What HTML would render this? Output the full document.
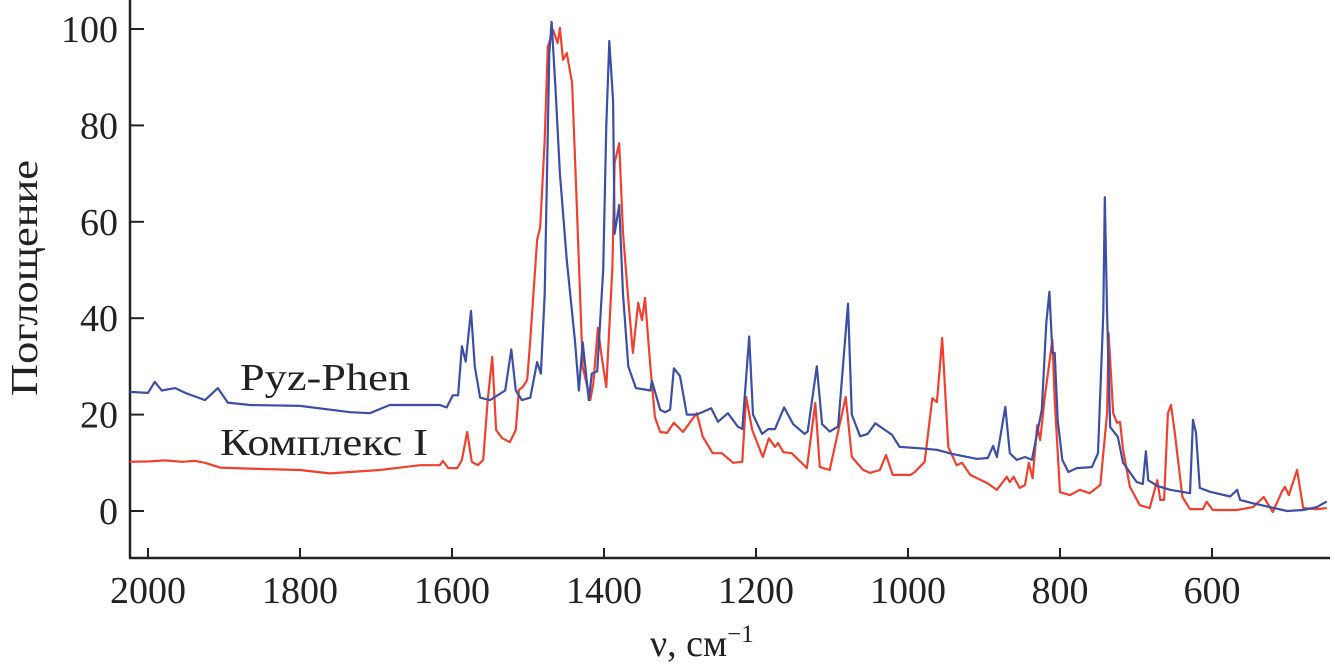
<!DOCTYPE html>
<html><head><meta charset="utf-8">
<style>
html,body{margin:0;padding:0;background:#fff;}
svg{display:block;}
text{font-family:"Liberation Serif","DejaVu Serif",serif;fill:#222;}
</style></head>
<body>
<svg id="chart" width="1335" height="671" viewBox="0 0 1335 671">
<g id="axes"></g>
<g id="series"></g>
<text transform="translate(37,278) rotate(-90)" text-anchor="middle" font-size="38" textLength="236" lengthAdjust="spacingAndGlyphs">Поглощение</text>
<text x="650" y="656" font-size="38">ν, см<tspan font-size="25" dy="-14">−1</tspan></text>
<text x="240" y="390" font-size="38" textLength="170" lengthAdjust="spacingAndGlyphs">Pyz-Phen</text>
<text x="220" y="455" font-size="38" textLength="208" lengthAdjust="spacingAndGlyphs">Комплекс I</text>
</svg>
<script>
const xTicks=[2000,1800,1600,1400,1200,1000,800,600];
const yTicks=[0,20,40,60,80,100];
const blueWn=[2024,2000,1991,1982,1964,1951,1925,1908,1895,1866,1800,1734,1708,1682,1616,1607,1599,1592,1587,1582,1575,1570,1563,1550,1530,1522,1516,1508,1497,1488,1483,1478,1472,1469,1464,1458,1449,1438,1433,1428,1420,1416,1409,1401,1397,1393,1388,1386,1380,1375,1368,1358,1339,1337,1326,1320,1313,1308,1300,1291,1278,1259,1250,1237,1224,1218,1209,1204,1192,1184,1175,1163,1151,1136,1132,1120,1113,1103,1092,1079,1074,1063,1053,1043,1021,1011,984,962,941,909,895,888,883,872,866,857,846,837,830,824,818,814,810,807,803,797,789,778,758,750,743,741,738,734,724,717,699,691,687,684,672,655,629,625,621,616,603,576,567,563,546,524,501,480,462,449];
const blueVal=[24.7,24.5,26.8,25,25.5,24.5,23,25.5,22.5,22,21.8,20.5,20.3,22,22,21.5,24,24,34.2,31,41.5,30,23.5,23,25,33.5,25,23,23.5,30.9,28.5,45,95,101.5,88,70,52,35,25,35,23,28.5,29,50,80,97.5,85,57.5,63.5,45,30,25.5,25,27,21,20.5,21,29.6,28,20,20,21.3,18.5,20.3,17.5,17,36.2,20,16,17,17,21.5,18,16,16.5,30,18,16.5,17.5,43,20,15.5,16,18.2,15.8,13.3,13,12.7,11.8,10.8,11,13.5,11.2,21.6,12,10.6,11.2,10.6,16.2,21,39,45.5,32.8,32.8,18.9,10.6,8.1,8.9,9.1,12,41,65.1,41,17.4,15.4,10,6,5.6,12.4,6.4,5.2,4.4,3.7,18.9,16.2,4.8,4,3,4.4,2.3,1.6,0.8,0,0.2,0.8,2];
const redWn=[2024,1997,1978,1955,1938,1925,1905,1866,1800,1761,1695,1642,1616,1612,1605,1593,1587,1580,1574,1566,1559,1553,1547,1542,1534,1524,1516,1512,1507,1501,1497,1488,1484,1478,1474,1467,1461,1458,1454,1449,1442,1436,1428,1418,1414,1408,1403,1397,1389,1386,1380,1375,1368,1362,1355,1350,1346,1339,1333,1326,1317,1308,1296,1278,1270,1257,1245,1230,1218,1213,1205,1191,1183,1175,1171,1164,1153,1133,1122,1116,1103,1082,1074,1059,1050,1037,1029,1020,997,991,978,968,962,955,947,936,929,918,896,883,870,866,861,853,846,841,836,830,826,820,810,807,800,787,774,761,747,738,736,730,725,721,717,708,695,682,672,668,663,658,654,649,639,629,612,607,599,567,546,532,520,508,504,499,488,480,462,449];
const redVal=[10.2,10.3,10.5,10.2,10.4,10,9,8.8,8.5,7.8,8.5,9.5,9.5,10.4,8.9,8.9,10.6,16.4,10.2,9.5,10.6,23,32,16.8,15.1,14.3,16.8,25.1,25.7,27.2,35.5,56.2,58.9,77,96.3,99.8,97.1,100.2,93.6,95,88.8,64.5,29.9,23,26.6,38,32,25.7,50.6,72.2,76.3,57.7,43.8,32.8,43.2,39.6,44.2,29.9,19.5,16.4,16.2,18.3,16.4,20.3,15.4,12,12,10,10.2,23.7,16.8,11.2,15.1,13.3,14.1,12.2,12,8.9,22.4,9.1,8.5,23.7,11.2,8.5,7.9,8.5,11.6,7.5,7.5,8.1,10.2,23.4,22.6,35.9,13.3,9.5,10,7.5,5.8,4.4,7.1,6,7.1,4.8,5.4,10,6.8,17.8,14.7,23.7,35.5,23,3.9,3.3,4.4,3.7,5.4,20.3,36.9,20.3,18.3,18.5,12.7,5,1.2,0.6,6.4,2.3,2.3,20.3,22,16.2,2.9,0.4,0.4,1.9,0.2,0.2,0.8,2.9,-0.2,4,5,3.3,8.5,0.6,0.4,0.6];

const NS='http://www.w3.org/2000/svg';
const X0=130,X1=1330,Y0=0,Y1=558;
function xs(v){return 148+(2000-v)*0.76;}
function ys(a){return 511-a*4.82;}
const axes=document.getElementById('axes');
function mk(tag,attrs,parent){const e=document.createElementNS(NS,tag);for(const k in attrs)e.setAttribute(k,attrs[k]);parent.appendChild(e);return e;}
const yl=mk('line',{x1:X0,y1:Y0,x2:X0,y2:Y1,stroke:'#222','stroke-width':2.5},axes);


const xl=mk('line',{x1:X0-1,y1:Y1,x2:X1,y2:Y1,stroke:'#222','stroke-width':2.5},axes);


yTicks.forEach(t=>{
  const l=mk('line',{x1:X0,x2:X0+14,y1:ys(t),y2:ys(t),stroke:'#222','stroke-width':2},axes);
  
  
  const tx=mk('text',{x:118,y:ys(t)+13,'text-anchor':'end','font-size':38},axes);
  tx.textContent=t;
  
  
});
xTicks.forEach(t=>{
  const l=mk('line',{x1:xs(t),x2:xs(t),y1:Y1,y2:Y1-10,stroke:'#222','stroke-width':2},axes);
  
  
  const tx=mk('text',{x:xs(t),y:603,'text-anchor':'middle','font-size':38},axes);
  tx.textContent=t;
  
  
});
const series=document.getElementById('series');
function line(wn,val,color,name){
  const d=wn.map((w,i)=>(i?'L':'M')+xs(w).toFixed(1)+','+ys(val[i]).toFixed(1)).join('');
  const p=mk('path',{d:d,fill:'none',stroke:color,'stroke-width':2.2,'stroke-linejoin':'round'},series);
  
  
}
line(redWn,redVal,'#f0402e','complex-i-line');
line(blueWn,blueVal,'#3c4fa6','pyz-phen-line');
</script>
</body></html>
